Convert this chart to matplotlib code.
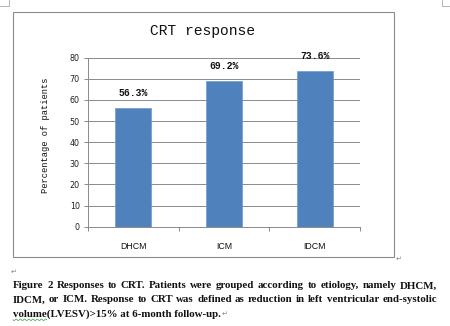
import matplotlib
matplotlib.use("Agg")
import matplotlib.pyplot as plt
from matplotlib.patches import Rectangle
from matplotlib.lines import Line2D
import numpy as np

categories = ["DHCM", "ICM", "IDCM"]
values = [56.3, 69.2, 73.6]
value_labels = ["56.3%", "69.2%", "73.6%"]
yticks = [0, 10, 20, 30, 40, 50, 60, 70, 80]
title = "CRT response"
ylabel = "Percentage of patients"
caption_lines = [
    "Figure 2 Responses to CRT. Patients were grouped according to etiology, namely DHCM,",
    "IDCM, or ICM. Response to CRT was defined as reduction in left ventricular end-systolic",
    "volume(LVESV)>15% at 6-month follow-up.",
]

W, H = 450, 326
fig = plt.figure(figsize=(W / 100, H / 100), dpi=100)
fig.patch.set_facecolor("white")

def fx(x):
    return x / W

def fy(y):
    return 1 - y / H

# chart frame
fig.add_artist(Rectangle((fx(13), fy(257)), fx(394) - fx(13), fy(12) - fy(257),
                         transform=fig.transFigure, facecolor="none",
                         edgecolor="#8c8c8c", linewidth=0.8, zorder=5))

# axes
x0, x1 = 88, 360
ytop, ybot = 57.7, 226.7
ax = fig.add_axes([fx(x0), fy(ybot), (x1 - x0) / W, (ybot - ytop) / H])
ax.set_facecolor("none")
x = np.arange(len(categories))
bars = ax.bar(x, values, width=0.4, color="#4F81BD", edgecolor="#6f9bd0",
              linewidth=0.5, zorder=3)
ax.set_xlim(-0.5, len(categories) - 0.5)
ax.set_ylim(0, 80)
ax.set_yticks(yticks)
ax.set_yticklabels([str(t) for t in yticks], fontsize=5.8, family="DejaVu Sans",
                   color="#222222")
ax.yaxis.grid(True, color="#8a8a8a", linewidth=0.7, zorder=0)
ax.set_axisbelow(True)
ax.set_xticks(x)
ax.set_xticklabels(categories, fontsize=6.3, family="Liberation Sans", color="#111111")
ax.tick_params(axis="x", length=0, pad=11)
ax.set_xticks(np.arange(-0.5, len(categories)), minor=True)
ax.tick_params(axis="x", which="minor", length=3, color="#8a8a8a", width=0.7)
ax.tick_params(axis="y", length=3, color="#8a8a8a", width=0.7, pad=3)
for s in ["top", "right"]:
    ax.spines[s].set_visible(False)
ax.spines["left"].set_color("#8a8a8a")
ax.spines["bottom"].set_color("#8a8a8a")
ax.spines["left"].set_linewidth(0.7)
ax.spines["bottom"].set_linewidth(0.7)

for xi, v, lab in zip(x, values, value_labels):
    ax.annotate(lab, (xi, v), xytext=(0, 7), textcoords="offset points",
                ha="center", va="bottom", fontsize=7, family="Liberation Mono",
                fontweight="bold", color="#111111")

fig.text(fx(203), fy(31), title, ha="center", va="center", fontsize=10.5,
         family="Liberation Mono", color="#111111")
fig.text(fx(45), fy(135), ylabel, ha="center", va="center", rotation=90,
         fontsize=6.3, family="Liberation Mono", color="#111111")

# caption (justified)
fig.canvas.draw()
renderer = fig.canvas.get_renderer()
left, right = 13, 437
line_y = [286, 300, 314.3]
cap_kw = dict(fontsize=7.8, family="Liberation Serif", fontweight="bold",
              color="#111111", va="center", ha="left")
end_x = None
for i, (line, yy) in enumerate(zip(caption_lines, line_y)):
    words = line.split(" ")
    if i < 2:
        texts = [fig.text(0, fy(yy), w, **cap_kw) for w in words]
        widths = [t.get_window_extent(renderer).width for t in texts]
        gap = (right - left - sum(widths)) / (len(words) - 1)
        cx = left
        for t, w in zip(texts, widths):
            t.set_x(fx(cx))
            cx += w + gap
    else:
        t = fig.text(fx(left), fy(yy), line, **cap_kw)
        end_x = left + t.get_window_extent(renderer).width
        # wavy underline under "volume"
        tv = fig.text(0, 0, "volume", **cap_kw)
        vw = tv.get_window_extent(renderer).width
        tv.remove()
        xs = np.linspace(left, left + vw, 40)
        ys = yy + 5.5 + 0.8 * np.sin(np.linspace(0, 16 * np.pi, 40))
        fig.add_artist(Line2D(fx(xs), fy(ys), transform=fig.transFigure,
                              color="#3a9a3a", linewidth=0.5))

mark_kw = dict(fontsize=5, color="#888888", family="DejaVu Sans", va="center", ha="left")
fig.text(fx(396), fy(259), "\u21b5", **mark_kw)
fig.text(fx(11), fy(272), "\u21b5", **mark_kw)
fig.text(fx(end_x + 1), fy(314), "\u21b5", **mark_kw)

# page corner marks
for pts in ([(0, 6), (9, 6), (9, 0)], [(450, 6), (442, 6), (442, 0)]):
    xs, ys = zip(*pts)
    fig.add_artist(Line2D(fx(np.array(xs)), fy(np.array(ys)), transform=fig.transFigure,
                          color="#aaaaaa", linewidth=0.6))

fig.savefig("out.png", dpi=100, facecolor="white")
